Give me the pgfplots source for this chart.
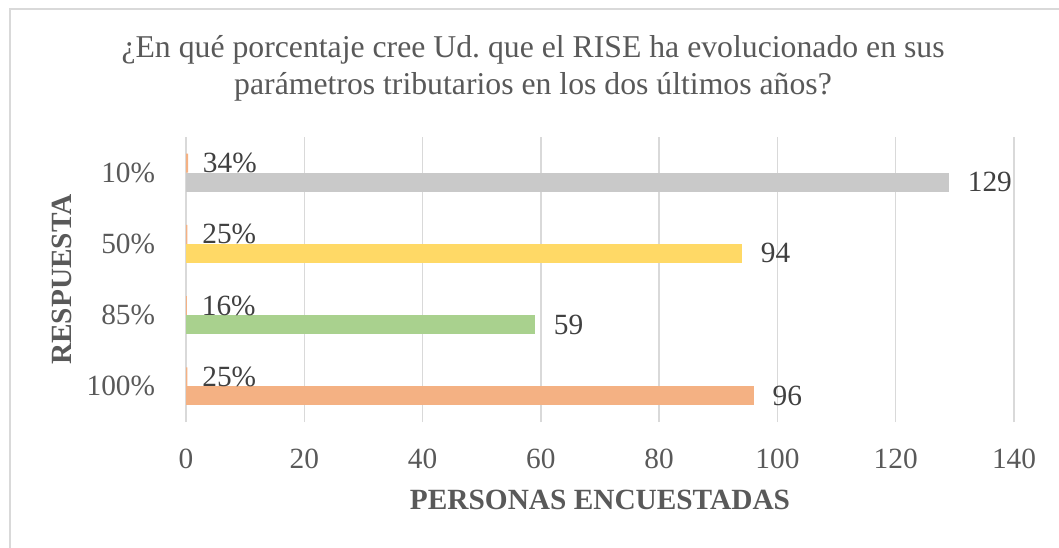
\documentclass[border=0pt]{standalone}
\usepackage{pgfplots}
\pgfplotsset{compat=1.18}
\usepackage{fontspec}
\setmainfont{Liberation Serif}
\frenchspacing
\definecolor{txt}{HTML}{595959}
\definecolor{lbl}{HTML}{404040}
\definecolor{gridc}{HTML}{D9D9D9}
\definecolor{cgray}{HTML}{C9C9C9}
\definecolor{cyel}{HTML}{FFD966}
\definecolor{cgrn}{HTML}{A9D18E}
\definecolor{corg}{HTML}{F4B183}
\begin{document}
\begin{tikzpicture}
\useasboundingbox (0pt,0pt) rectangle (794.25pt,410.25pt);
\draw[gridc, line width=1.2pt] (7.5pt,-5pt) -- (7.5pt,403.5pt) -- (800pt,403.5pt);
\begin{axis}[
  at={(139.5pt,93.75pt)}, anchor=south west,
  scale only axis, width=621pt, height=213.75pt,
  xmin=0, xmax=140, ymin=-0.5, ymax=3.5,
  xtick={0,20,...,140}, ytick={0,1,2,3},
  yticklabels={100\%,85\%,50\%,10\%},
  xmajorgrids, major grid style={gridc, line width=1.1pt},
  axis line style={draw=none}, major tick length=0pt,
  tick label style={font=\fontsize{22}{26}\selectfont, text=txt, inner sep=0pt},
  xticklabel shift=20pt, yticklabel shift=23pt,
  /pgf/number format/assume math mode=true,
  xbar, bar width=14.25pt,
  title={¿En qué porcentaje cree Ud. que el RISE ha evolucionado en sus\\parámetros tributarios en los dos últimos años?},
  title style={at={(axis description cs:0.4191,1.213)}, anchor=center, align=center,
    font=\fontsize{23.8}{28}\selectfont, text=txt},
  xlabel={PERSONAS ENCUESTADAS},
  xlabel style={at={(axis description cs:0.5,-0.2737)}, anchor=center,
    font=\bfseries\fontsize{22}{26}\selectfont, text=txt},
  ylabel={RESPUESTA},
  ylabel style={at={(axis description cs:-0.1498,0.5)}, anchor=center,
    font=\bfseries\fontsize{22}{26}\selectfont, text=txt},
]
\addplot[fill=corg, draw=none, bar shift=7.125pt,
  point meta=explicit symbolic, nodes near coords,
  nodes near coords style={anchor=west, inner sep=0pt, xshift=11pt,
    font=\fontsize{22}{26}\selectfont, text=lbl}]
  coordinates {(0.25,0) [25\%] (0.16,1) [16\%] (0.25,2) [25\%] (0.34,3) [34\%]};
\addplot[fill=corg, draw=none, bar shift=-7.125pt, point meta=x, nodes near coords,
  nodes near coords style={anchor=west, inner sep=0pt, xshift=14pt,
    font=\fontsize{22}{26}\selectfont, text=lbl}]
  coordinates {(96,0)};
\addplot[fill=cgrn, draw=none, bar shift=-7.125pt, point meta=x, nodes near coords,
  nodes near coords style={anchor=west, inner sep=0pt, xshift=14pt,
    font=\fontsize{22}{26}\selectfont, text=lbl}]
  coordinates {(59,1)};
\addplot[fill=cyel, draw=none, bar shift=-7.125pt, point meta=x, nodes near coords,
  nodes near coords style={anchor=west, inner sep=0pt, xshift=14pt,
    font=\fontsize{22}{26}\selectfont, text=lbl}]
  coordinates {(94,2)};
\addplot[fill=cgray, draw=none, bar shift=-7.125pt, point meta=x, nodes near coords,
  nodes near coords style={anchor=west, inner sep=0pt, xshift=14pt,
    font=\fontsize{22}{26}\selectfont, text=lbl}]
  coordinates {(129,3)};
\end{axis}
\end{tikzpicture}
\end{document}
